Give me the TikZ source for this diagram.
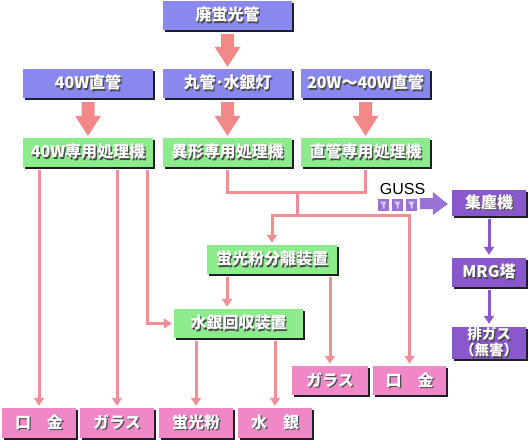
\documentclass[tikz,border=0pt]{standalone}
\usepackage{fontspec}
\newfontfamily\jp{Noto Sans CJK JP}
\newfontfamily\lat{Liberation Sans}
\usetikzlibrary{shadows,calc,arrows.meta}
\definecolor{bluec}{RGB}{136,136,238}
\definecolor{greenc}{RGB}{140,236,140}
\definecolor{pinkc}{RGB}{240,136,200}
\definecolor{purc}{RGB}{136,88,204}
\definecolor{linec}{RGB}{240,144,150}
\definecolor{bigc}{RGB}{242,136,136}
\definecolor{shc}{RGB}{30,30,40}
\newcommand\tsh[1]{\rlap{\kern1.3pt\raisebox{-1.3pt}{\color{black!70}#1}}#1}
\newcommand\mkbox[7]{%
  \node[#6, minimum width={(#4-#2-2)*1pt}, minimum height={(#5-#3-2)*1pt}] (#1)
    at ({(#2+#4-2)/2},{(#3+#5-2)/2}) {#7};}
\newcommand\bigarr[2]{%
  \fill[bigc] ($(#1)+(-6.5,4)$) -- ($(#1)+(6.5,4)$) -- ($(#2)+(6.5,-22)$) -- ($(#2)+(13,-22)$)
    -- ($(#2)+(0,-2)$) -- ($(#2)+(-13,-22)$) -- ($(#2)+(-6.5,-22)$) -- cycle;}
\tikzset{
  basebox/.style={inner sep=0pt, text=white, font=\jp\bfseries\fontsize{16}{18}\selectfont,
    general shadow={fill=shc, shadow xshift=2pt, shadow yshift=-2pt}},
  bluebox/.style={basebox, fill=bluec},
  greenbox/.style={basebox, fill=greenc},
  pinkbox/.style={basebox, fill=pinkc},
  purbox/.style={basebox, fill=purc},
  pl/.style={draw=linec, line width=3pt, shorten <=3pt},
  pla/.style={pl, -{Triangle[width=10pt,length=8pt]}, shorten >=2pt},
  pur/.style={draw=purc, line width=3pt, shorten <=3pt, shorten >=3pt, -{Triangle[width=10pt,length=8pt]}},
  sq/.style={fill=purc!85, minimum width=11pt, minimum height=12pt, inner sep=0pt}
}
\begin{document}
\begin{tikzpicture}[x=1pt,y=-1pt]
\useasboundingbox (0,0) rectangle (530,442);
% boxes
\mkbox{b0}{163}{1}{294}{32}{bluebox}{\tsh{廃蛍光管}}
\mkbox{b1}{23}{69}{155}{100}{bluebox}{\tsh{40W直管}}
\mkbox{b2}{163}{69}{294}{100}{bluebox}{\tsh{丸管･水銀灯}}
\mkbox{b3}{301}{69}{432}{100}{bluebox}{\tsh{20W～40W直管}}
\mkbox{g1}{23}{138}{155}{169}{greenbox}{\tsh{40W専用処理機}}
\mkbox{g2}{163}{138}{294}{169}{greenbox}{\tsh{異形専用処理機}}
\mkbox{g3}{301}{138}{432}{169}{greenbox}{\tsh{直管専用処理機}}
\mkbox{g4}{207}{245}{339}{276}{greenbox}{\tsh{蛍光粉分離装置}}
\mkbox{g5}{174}{309}{305}{340}{greenbox}{\tsh{水銀回収装置}}
\mkbox{p1}{292}{366}{370}{397}{pinkbox}{\tsh{ガラス}}
\mkbox{p2}{373}{366}{448}{397}{pinkbox}{\tsh{口　金}}
\mkbox{q1}{2}{408}{78}{440}{pinkbox}{\tsh{口　金}}
\mkbox{q2}{80}{408}{156}{440}{pinkbox}{\tsh{ガラス}}
\mkbox{q3}{159}{408}{235}{440}{pinkbox}{\tsh{蛍光粉}}
\mkbox{q4}{238}{408}{314}{440}{pinkbox}{\tsh{水　銀}}
\mkbox{u1}{452}{190}{528}{218}{purbox}{\tsh{集塵機}}
\mkbox{u2}{452}{258}{528}{289}{purbox}{\tsh{MRG塔}}
\mkbox{u3}{452}{327}{528}{361}{purbox, align=center, font=\jp\bfseries\fontsize{14.5}{14}\selectfont}{\tsh{排ガス}\\\tsh{（無害）}}
% big arrows
\bigarr{b0.south}{b2.north}
\bigarr{b1.south}{g1.north}
\bigarr{b2.south}{g2.north}
\bigarr{b3.south}{g3.north}
% coordinates
\coordinate (c1) at (147,0);
\coordinate (c2) at (227,0);
\coordinate (j1) at (297,192);
\coordinate (j2) at (297,215);
% connectors
\draw[pla] (q1.north |- g1.south) -- (q1.north);
\draw[pla] (q2.north |- g1.south) -- (q2.north);
\draw[pla] (g1.south -| c1) |- (g5.west);
\draw[pl, shorten >=0pt] (g2.south) |- (j1);
\draw[pl, shorten >=0pt] (g3.south) |- (j1);
\draw[draw=linec, line width=3pt] (j1) -- (j2);
\draw[pla, shorten <=0pt] (j2) -| (g4.north);
\draw[pla, shorten <=0pt] (j2) -| (p2.north);
\draw[pla] (g4.south -| c2) -- (g5.north -| c2);
\draw[pla] (p1.north |- g4.south) -- (p1.north);
\draw[pla] (q3.north |- g5.south) -- (q3.north);
\draw[pla] (q4.north |- g5.south) -- (q4.north);
\draw[pur] (u1.south) -- (u2.north);
\draw[pur] (u2.south) -- (u3.north);
% GUSS
\node[font=\lat\fontsize{16}{16}\selectfont, inner sep=0pt] (guss) at (402.5,189) {GUSS};
\foreach \i/\xx in {1/383.5,2/397.5,3/411.5}{
  \node[sq] (s\i) at (\xx,205) {};
  \fill[purc!30] ($(s\i.center)+(-3.5,-3.5)$) -- ($(s\i.center)+(3,-3.5)$) -- ($(s\i.center)+(1,0)$)
     -- ($(s\i.center)+(1,3.5)$) -- ($(s\i.center)+(-0.5,3.5)$) -- ($(s\i.center)+(-1,0)$) -- cycle;
}
\fill[purc!85] ($(u1.west)+(-32,-5)$) -- ($(u1.west)+(-19,-5)$) -- ($(u1.west)+(-19,-11)$)
   -- ($(u1.west)+(-4,1)$) -- ($(u1.west)+(-19,12)$) -- ($(u1.west)+(-19,6)$) -- ($(u1.west)+(-32,6)$) -- cycle;
\end{tikzpicture}
\end{document}
